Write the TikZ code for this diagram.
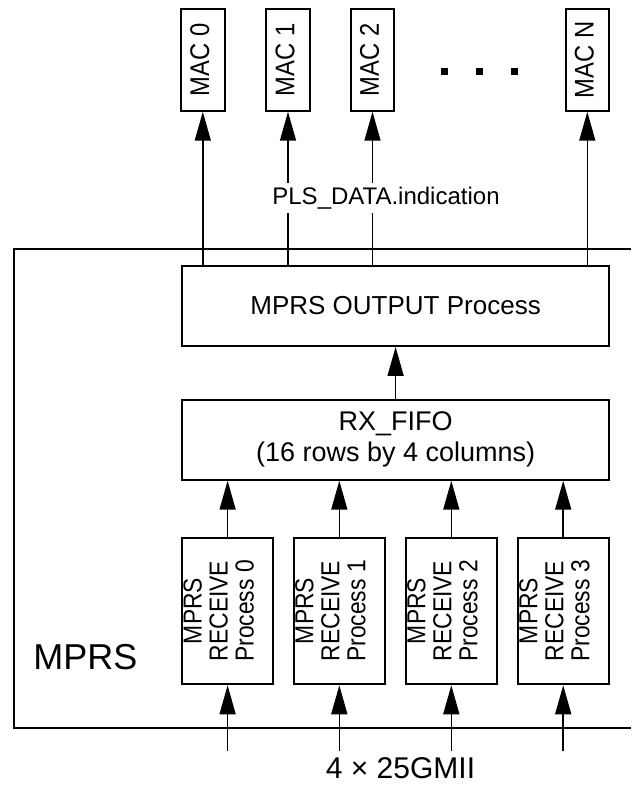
\documentclass[tikz,border=0pt]{standalone}
\usepackage{fontspec}
\setmainfont{Liberation Sans}
\newfontfamily\narrowfont{Liberation Sans}[FakeStretch=0.88]
\usetikzlibrary{arrows.meta}

\begin{document}
\begin{tikzpicture}[x=1pt, y=-1pt, >={Triangle[length=29pt,width=16pt]},
  box/.style={draw, line width=2pt, inner sep=0pt, align=center},
  macbox/.style={box, rotate=90, minimum width=101.7pt, minimum height=43.5pt, text depth=6pt, font=\narrowfont\fontsize{27}{27}\selectfont},
  rxbox/.style={box, rotate=90, minimum width=146.6pt, minimum height=91.3pt, text depth=18pt, font=\narrowfont\fontsize{26}{26}\selectfont},
  widebox/.style={box, minimum width=427.4pt, minimum height=80pt, font=\fontsize{26}{31}\selectfont},
  link/.style={->, line width=1.5pt}]
\useasboundingbox (0,0) rectangle (631,786);
% MPRS frame, open on the right
\draw[line width=2pt] (631,249) -- (14,249) -- (14,728.3) -- (631,728.3);
\node[font=\fontsize{36}{40}\selectfont] (mprs) at (85.5,656.7) {MPRS};
\node[macbox] (mac0) at (202.8,59.9) {MAC 0};
\node[macbox] (mac1) at (288,59.9) {MAC 1};
\node[macbox] (mac2) at (372.5,59.9) {MAC 2};
\node[macbox] (macn) at (587.3,59.9) {MAC N};
\foreach \x in {444.7,479,514}
  \fill (\x-3.5,68.2) rectangle (\x+3.5,75.2);
\node[widebox] (out) at (395.6,305.9) {MPRS OUTPUT Process};
\node[widebox, font=\fontsize{27}{31}\selectfont] (fifo) at (395.6,439.7) {RX\_FIFO\\(16 rows by 4 columns)};
\foreach \i/\x in {0/227.6,1/339.3,2/451.3,3/563.2}
  \node[rxbox] (rx\i) at (\x,611) {MPRS\\RECEIVE\\Process \i};
\coordinate (gmiiline) at (0,751);
% connectors
\foreach \m in {mac0,mac1,mac2,macn}
  \draw[link] (\m |- out.north) -- (\m);
\draw[link] (fifo) -- (out);
\foreach \i in {0,...,3} {
  \draw[link] (rx\i) -- (rx\i |- fifo.south);
  \coordinate (g\i) at (rx\i |- gmiiline);
  \draw[link] (g\i) -- (rx\i);
}
\node[fill=white, inner sep=3.5pt, font=\fontsize{24}{26}\selectfont] (pls) at (386,198) {PLS\_DATA.indication};
\node[font=\fontsize{30}{32}\selectfont] (gmii) at (400.5,768) {4 × 25GMII};
\end{tikzpicture}
\end{document}
